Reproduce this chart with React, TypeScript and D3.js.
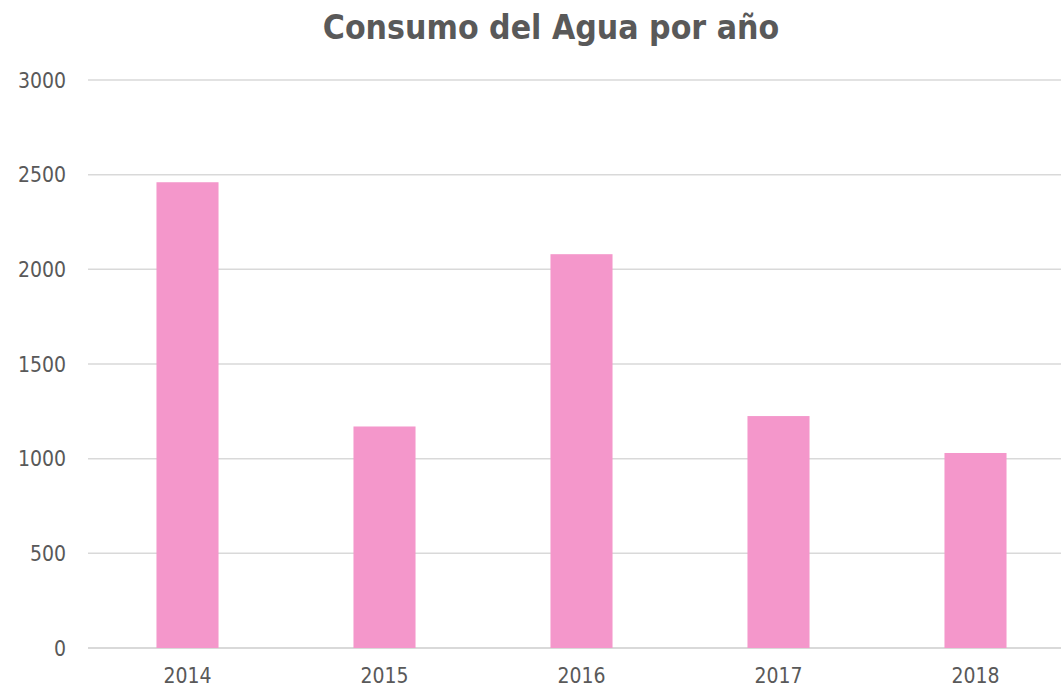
import * as d3 from "d3";

const years = ["2014", "2015", "2016", "2017", "2018"];
const consumo = [2460, 1170, 2080, 1225, 1030];
const yTicks = [0, 500, 1000, 1500, 2000, 2500, 3000];

const W = 1061;
const H = 689;

export default function App() {
  const x = d3
    .scaleBand()
    .domain(years)
    .range([89, 1074])
    .paddingInner(0.685)
    .paddingOuter(0.3425);

  const y = d3.scaleLinear().domain([0, 3000]).range([648, 80]);

  const font = "'DejaVu Sans Condensed', 'DejaVu Sans', sans-serif";

  return (
    <svg
      width={W}
      height={H}
      style={{ position: "absolute", left: 0, top: 0, background: "#fff" }}
      fontFamily={font}
    >
      <text
        x={551}
        y={39}
        textAnchor="middle"
        fontSize={33.5}
        fontWeight="bold"
        fill="#595959"
      >
        Consumo del Agua por año
      </text>

      {/* grid */}
      {yTicks.map((t) => (
        <g key={t}>
          <line
            x1={88}
            x2={W}
            y1={y(t)}
            y2={y(t)}
            stroke="#d9d9d9"
            strokeWidth={t === 0 ? 2 : 1.5}
          />
          <text
            x={66}
            y={y(t)}
            dy="0.36em"
            textAnchor="end"
            fontSize={21}
            fill="#595959"
          >
            {t}
          </text>
        </g>
      ))}

      {/* bars */}
      {years.map((yr, i) => (
        <rect
          key={yr}
          x={x(yr)}
          y={y(consumo[i])}
          width={x.bandwidth()}
          height={y(0) - y(consumo[i])}
          fill="#f497cb"
        />
      ))}

      {/* x labels */}
      {years.map((yr) => (
        <text
          key={yr}
          x={(x(yr) || 0) + x.bandwidth() / 2}
          y={683}
          textAnchor="middle"
          fontSize={21}
          fill="#595959"
        >
          {yr}
        </text>
      ))}
    </svg>
  );
}
